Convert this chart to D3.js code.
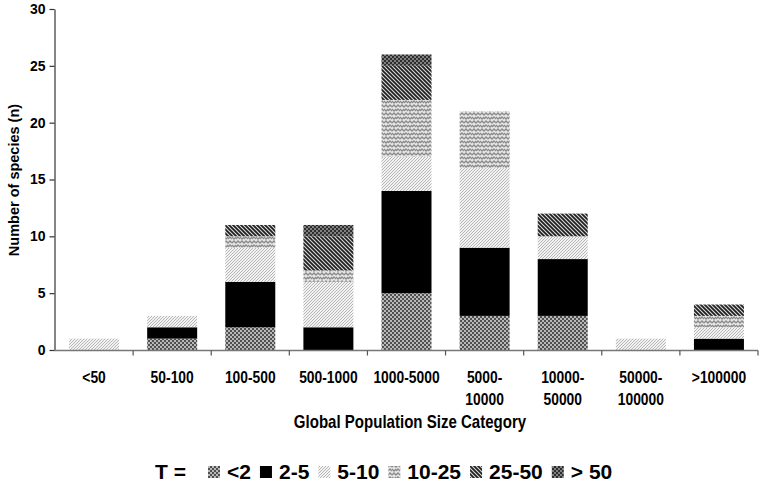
<!DOCTYPE html>
<html>
<head>
<meta charset="utf-8">
<script src="https://cdn.jsdelivr.net/npm/d3@7"></script>
<style>
  body { margin: 0; background: #fff; }
  svg { display: block; font-family: "Liberation Sans", Arial, sans-serif; }
</style>
</head>
<body>
<div class="viz"></div>
<script>
// population size categories
const categories = ["<50", "50-100", "100-500", "500-1000", "1000-5000", "5000-10000", "10000-50000", "50000-100000", ">100000"];
// two-line tick labels as drawn under the axis
const tickLabels = [["<50"], ["50-100"], ["100-500"], ["500-1000"], ["1000-5000"], ["5000-", "10000"], ["10000-", "50000"], ["50000-", "100000"], [">100000"]];

// species counts per T class (stacked bottom to top)
const tLt2   = [0, 1, 2, 0, 5, 3, 3, 0, 0];
const t2to5  = [0, 1, 4, 2, 9, 6, 5, 0, 1];
const t5to10 = [1, 1, 3, 4, 3, 7, 2, 1, 1];
const t10to25 = [0, 0, 1, 1, 5, 5, 0, 0, 1];
const t25to50 = [0, 0, 1, 3, 3, 0, 2, 0, 1];
const tGt50  = [0, 0, 0, 1, 1, 0, 0, 0, 0];

const seriesNames = ["<2", "2-5", "5-10", "10-25", "25-50", "> 50"];
const seriesValues = [tLt2, t2to5, t5to10, t10to25, t25to50, tGt50];
const yTicks = [0, 5, 10, 15, 20, 25, 30];

const width = 763, height = 485;
const margin = ({top: 9, right: 5, bottom: 135, left: 55});

const svg = d3.select('.viz').append('svg')
    .attr('width', width)
    .attr('height', height);

// fill patterns, one per T class
const defs = svg.append('defs');

const p0 = defs.append('pattern').attr('id', 'pat0').attr('patternUnits', 'userSpaceOnUse').attr('width', 4).attr('height', 4);
p0.append('rect').attr('width', 4).attr('height', 4).attr('fill', '#b8b8b8');
p0.append('rect').attr('width', 2).attr('height', 2).attr('fill', '#505050');
p0.append('rect').attr('x', 2).attr('y', 2).attr('width', 2).attr('height', 2).attr('fill', '#505050');

const p1 = defs.append('pattern').attr('id', 'pat1').attr('patternUnits', 'userSpaceOnUse').attr('width', 4).attr('height', 4);
p1.append('rect').attr('width', 4).attr('height', 4).attr('fill', '#000');

const p2 = defs.append('pattern').attr('id', 'pat2').attr('patternUnits', 'userSpaceOnUse').attr('width', 3).attr('height', 3);
p2.append('rect').attr('width', 3).attr('height', 3).attr('fill', '#f2f2f2');
p2.append('path').attr('d', 'M-1,1 L1,-1 M0,3 L3,0 M2,4 L4,2').attr('stroke', '#b0b0b0').attr('stroke-width', 0.9);

const p3 = defs.append('pattern').attr('id', 'pat3').attr('patternUnits', 'userSpaceOnUse').attr('width', 8).attr('height', 8);
p3.append('rect').attr('width', 8).attr('height', 8).attr('fill', '#e6e6e6');
p3.append('path').attr('d', 'M0,3 L2,1 L4,3 L6,1 L8,3 M0,5 L2,7 L4,5 M4,7 L6,5 L8,7').attr('stroke', '#8a8a8a').attr('stroke-width', 1.3).attr('fill', 'none');

const p4 = defs.append('pattern').attr('id', 'pat4').attr('patternUnits', 'userSpaceOnUse').attr('width', 4).attr('height', 4);
p4.append('rect').attr('width', 4).attr('height', 4).attr('fill', '#d8d8d8');
p4.append('path').attr('d', 'M-1,-1 L5,5 M-1,3 L1,5 M3,-1 L5,1').attr('stroke', '#1e1e1e').attr('stroke-width', 1.7);

const p5 = defs.append('pattern').attr('id', 'pat5').attr('patternUnits', 'userSpaceOnUse').attr('width', 4).attr('height', 4);
p5.append('rect').attr('width', 4).attr('height', 4).attr('fill', '#808080');
p5.append('rect').attr('width', 2).attr('height', 2).attr('fill', '#2e2e2e');
p5.append('rect').attr('x', 2).attr('y', 2).attr('width', 2).attr('height', 2).attr('fill', '#2e2e2e');

const fills = seriesNames.map((d, i) => `url(#pat${i})`);

// build rows for the stack
const table = categories.map((c, i) => {
  const row = {category: c};
  seriesNames.forEach((s, j) => row[s] = seriesValues[j][i]);
  return row;
});
const stacked = d3.stack().keys(seriesNames)(table);

const x = d3.scaleBand()
    .domain(categories)
    .range([margin.left, width - margin.right])
    .paddingInner(0.36)
    .paddingOuter(0.18);

const y = d3.scaleLinear()
    .domain([0, 30])
    .range([height - margin.bottom, margin.top]);

// bars
svg.append('g')
  .selectAll('g').data(stacked).enter().append('g')
    .attr('fill', (d, i) => fills[i])
  .selectAll('rect').data(d => d.filter(s => s[1] > s[0])).enter().append('rect')
    .attr('x', d => x(d.data.category))
    .attr('y', d => y(d[1]))
    .attr('height', d => y(d[0]) - y(d[1]))
    .attr('width', x.bandwidth());

// y axis
const yAxis = svg.append('g')
    .attr('transform', `translate(${margin.left - 0.5},0)`)
    .call(d3.axisLeft(y).tickValues(yTicks).tickSize(5).tickSizeOuter(0));
yAxis.selectAll('path, line').attr('stroke', '#333').attr('stroke-width', 1.2);
yAxis.selectAll('text')
    .attr('font-family', '"Liberation Sans", Arial, sans-serif')
    .attr('font-weight', 'bold')
    .attr('font-size', 14)
    .attr('fill', '#000')
    .attr('x', -9);

// x axis: line plus boundary ticks between categories
const x0 = y(0) + 0.5;
const step = x.step();
const bounds = d3.range(categories.length + 1).map(i => x(categories[0]) - step * x.paddingInner() / 2 + i * step);
const xg = svg.append('g');
xg.append('line')
    .attr('x1', margin.left - 1).attr('x2', bounds[bounds.length - 1])
    .attr('y1', x0).attr('y2', x0)
    .attr('stroke', '#777').attr('stroke-width', 1.3);
xg.selectAll('line.tick').data(bounds.slice(1)).enter().append('line')
    .attr('class', 'tick')
    .attr('x1', d => d).attr('x2', d => d)
    .attr('y1', x0).attr('y2', x0 + 5)
    .attr('stroke', '#555').attr('stroke-width', 1.2);

// category labels, squeezed horizontally to mimic a narrow face
const lab = xg.selectAll('text.cat').data(categories).enter().append('text')
    .attr('class', 'cat')
    .attr('text-anchor', 'middle')
    .attr('font-weight', 'bold')
    .attr('font-size', 16.5)
    .attr('transform', d => `translate(${x(d) + x.bandwidth() / 2},383) scale(0.84,1)`);
lab.selectAll('tspan').data((d, i) => tickLabels[i]).enter().append('tspan')
    .attr('x', 0)
    .attr('dy', (d, i) => i === 0 ? 0 : 22)
    .text(d => d);

// axis titles
svg.append('text')
    .attr('text-anchor', 'middle')
    .attr('font-weight', 'bold')
    .attr('font-size', 17.5)
    .attr('transform', 'translate(410,428) scale(0.86,1)')
    .text('Global Population Size Category');

svg.append('text')
    .attr('text-anchor', 'middle')
    .attr('font-weight', 'bold')
    .attr('font-size', 14.5)
    .attr('transform', 'translate(19,180) rotate(-90)')
    .text('Number of species (n)');

// legend
const legend = svg.append('g').attr('font-weight', 'bold').attr('font-size', 21);
legend.append('text').attr('x', 155).attr('y', 479).text('T =');
let lx = 208;
seriesNames.forEach((s, i) => {
  legend.append('rect')
      .attr('x', lx).attr('y', 466)
      .attr('width', 12).attr('height', 12)
      .attr('fill', fills[i]);
  const t = legend.append('text').attr('x', lx + 19).attr('y', 479).text(s);
  lx += 19 + t.node().getComputedTextLength() + 9;
});
</script>
</body>
</html>
